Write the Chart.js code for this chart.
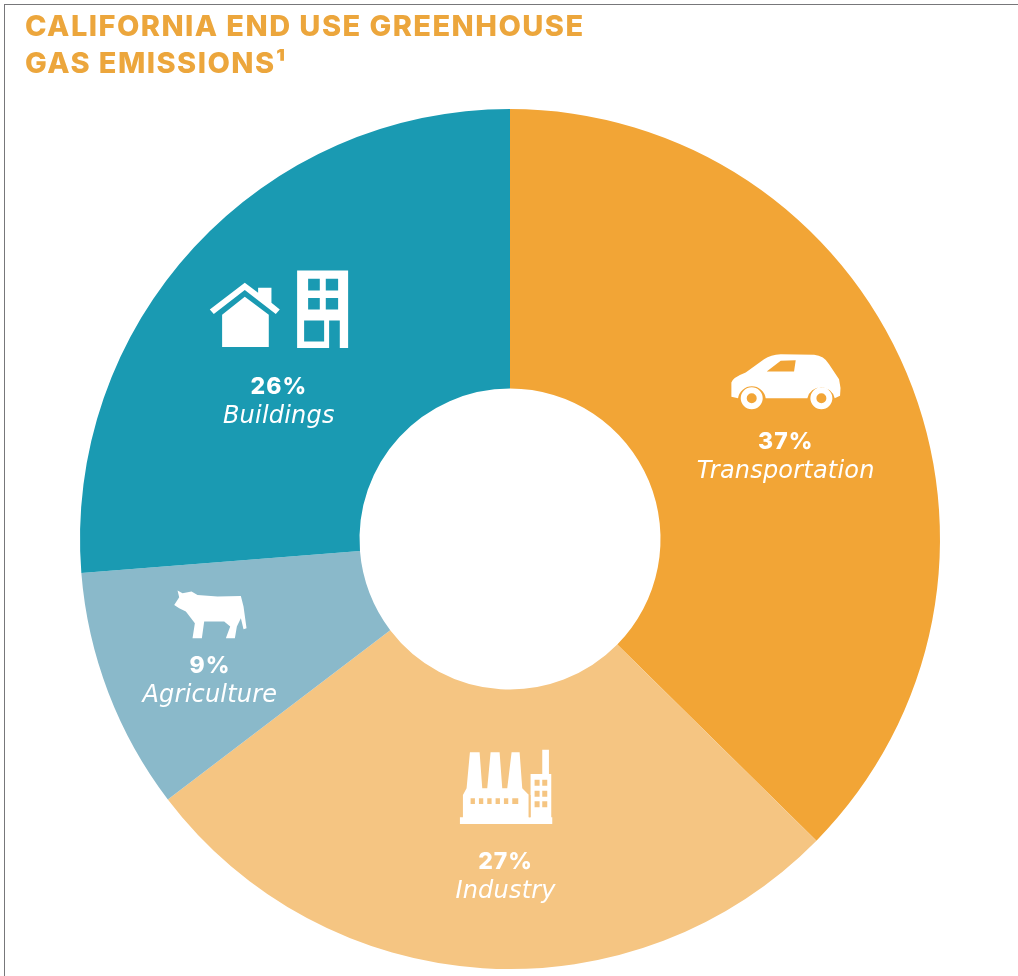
<!DOCTYPE html>
<html>
<head>
<meta charset="utf-8">
<title>California End Use Greenhouse Gas Emissions</title>
<script src="https://cdn.jsdelivr.net/npm/chart.js@4"></script>
<style>
    html, body { margin: 0; padding: 0; background: #fff; overflow: hidden; }
    #wrap { position: relative; width: 1018px; height: 976px; }
    #frame { position: absolute; left: 4px; top: 4px; right: 0; bottom: 0; border-left: 1px solid #77777a; border-top: 1px solid #77777a; }
    canvas { position: absolute; left: 0; top: 0; }
</style>
</head>
<body>
<div id="wrap">
    <div id="frame"></div>
    <canvas id="donut" width="1018" height="976"></canvas>
</div>
<script>
const titleLines = ['CALIFORNIA END USE GREENHOUSE', 'GAS EMISSIONS¹'];
const categories = ['Transportation', 'Industry', 'Agriculture', 'Buildings'];
const shares = [37, 27, 9, 26];
const sliceColors = ['#f2a536', '#f5c582', '#8ab9ca', '#1a9ab2'];

// ox/oy move the crop origin relative to the percent label.
const icons = {
    Transportation: {
        ox: -105, oy: -101,
        white: 'M152 168 L152 125 Q156 110 195 95 L250 55 Q270 42 300 40 L400 42 Q430 45 445 70 L475 115 Q482 140 478 165 L462 172 A42 42 0 0 0 380 172 L255 172 A42 42 0 0 0 172 172 Z M246 172 A33 33 0 1 0 180 172 A33 33 0 1 0 246 172 Z M455 172 A33 33 0 1 0 389 172 A33 33 0 1 0 455 172 Z',
        cut: 'M258 92 L300 60 L345 58 L340 92 Z M228 172 A15 15 0 1 0 198 172 A15 15 0 1 0 228 172 Z M437 172 A15 15 0 1 0 407 172 A15 15 0 1 0 437 172 Z'
    },
    Industry: {
        ox: -75, oy: -126,
        white: 'M88 245 L97 245 L97 178 L108 158 L118 50 L147 50 L155 158 L170 158 L180 50 L207 50 L215 158 L230 158 L243 50 L267 50 L275 158 L295 178 L295 245 L300 245 L300 115 L335 115 L335 42 L355 42 L355 115 L362 115 L362 245 L365 245 L365 265 L88 265 Z',
        cut: 'M120 188 H133 V205 H120 Z M145 188 H158 V205 H145 Z M170 188 H183 V205 H170 Z M195 188 H208 V205 H195 Z M220 188 H233 V205 H220 Z M245 188 H263 V205 H245 Z M312 132 H327 V150 H312 Z M335 132 H350 V150 H335 Z M312 165 H327 V183 H312 Z M335 165 H350 V183 H335 Z M312 197 H327 V215 H312 Z M335 197 H350 V215 H335 Z M294 178 H300 V245 H294 Z'
    },
    Agriculture: {
        ox: -89, oy: -89,
        white: 'M170 42 L185 50 L212 45 L230 55 L290 60 L360 58 L368 90 L377 155 L368 158 L360 125 L348 150 L342 185 L315 185 L328 150 L310 135 L250 135 L243 185 L215 185 L222 140 L195 105 L175 95 L160 85 L175 62 Z',
        cut: ''
    },
    Buildings: {
        ox: -89, oy: -135,
        white: 'M60 172 L165 92 L205 122 V107 H245 V152 L270 172 L258 186 L165 114 L72 186 Z M165 134 L237 188 V285 H97 V188 Z M322 55 H475 V288 H322 Z',
        cut: 'M355 80 H390 V115 H355 Z M408 80 H445 V115 H408 Z M355 138 H390 V172 H355 Z M408 138 H445 V172 H408 Z M343 205 H403 V268 H343 Z M418 205 H450 V288 H418 Z'
    }
};

// Label anchors, offset from each arc's own center point
const labelOffsets = {
    Transportation: { x: 8, y: 15 },
    Industry: { x: 14, y: 33 },
    Agriculture: { x: -29, y: 23 },
    Buildings: { x: -18, y: 45 }
};

// Title tracking has to be on the context before the title plugin draws
const titleTracking = {
    id: 'titleTracking',
    beforeDraw(chart) {
        chart.ctx.letterSpacing = '1.45px';
    }
};

// Draws the icon, percent and name inside each slice
const sliceLabels = {
    id: 'sliceLabels',
    afterDatasetsDraw(chart) {
        const { ctx } = chart;
        chart.getDatasetMeta(0).data.forEach((arc, i) => {
            const name = categories[i];
            const c = arc.getCenterPoint();
            const off = labelOffsets[name];
            const x = c.x + off.x, y = c.y + off.y;
            const icon = icons[name];

            ctx.save();
            ctx.translate(x + icon.ox, y + icon.oy);
            ctx.scale(1 / 3, 1 / 3);
            ctx.fillStyle = '#fff';
            ctx.fill(new Path2D(icon.white));
            if (icon.cut) {
                ctx.fillStyle = sliceColors[i];
                ctx.fill(new Path2D(icon.cut));
            }
            ctx.restore();

            ctx.save();
            ctx.fillStyle = '#fff';
            ctx.textAlign = 'center';
            ctx.textBaseline = 'middle';
            ctx.letterSpacing = '1px';
            ctx.font = '800 23px Inter';
            ctx.fillText(shares[i] + '%', x, y);
            ctx.letterSpacing = '0.2px';
            ctx.font = 'italic 400 24px "DejaVu Sans"';
            ctx.fillText(name, x, y + 30);
            ctx.restore();
        });
    }
};

new Chart(document.getElementById('donut').getContext('2d'), {
    type: 'doughnut',
    data: {
        labels: categories,
        datasets: [{
            data: shares,
            backgroundColor: sliceColors,
            borderWidth: 0
        }]
    },
    plugins: [titleTracking, sliceLabels],
    options: {
        responsive: false,
        animation: false,
        radius: 430,
        cutout: '35%',
        layout: { padding: { left: 25, right: 23, top: 0, bottom: 0 } },
        plugins: {
            legend: { display: false },
            tooltip: { enabled: false },
            title: {
                display: true,
                text: titleLines,
                align: 'start',
                color: '#eca63c',
                font: { family: 'Inter', size: 29, weight: '800', lineHeight: 1.276 },
                padding: { top: 9, bottom: 19 }
            }
        }
    }
});
</script>
</body>
</html>
